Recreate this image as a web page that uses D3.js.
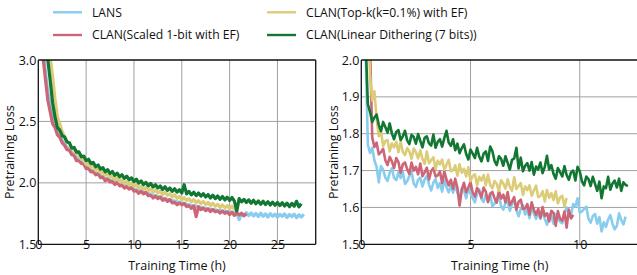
<!DOCTYPE html>
<html>
<head>
<meta charset="utf-8">
<script src="https://cdn.jsdelivr.net/npm/d3@7"></script>
<style>
  html, body { margin: 0; padding: 0; background: #fff; }
  svg { display: block; font-family: "Open Sans", sans-serif; }
</style>
</head>
<body>
<svg id="svgx" width="637" height="275"></svg>
<script>
// sampling grids (hours)
var leftT0 = 0.5, leftDt = 0.25;
var rightT0 = 0.1, rightDt = 0.1;

var seriesNames = ["LANS", "CLAN(Scaled 1-bit with EF)", "CLAN(Top-k(k=0.1%) with EF)", "CLAN(Linear Dithering (7 bits))"];
var seriesColors = ["#88ccee", "#cc6677", "#ddcc77", "#117733"];

// ---- left panel (0..29 h)
var lansLeft = [3.1,2.9,2.74,2.62,2.52,2.46,2.415,2.38,2.345,2.315,2.29,2.27,2.245,2.23,2.205,2.192,2.17,2.158,2.135,
  2.127,2.108,2.098,2.08,2.074,2.06,2.054,2.04,2.036,2.025,2.021,2.01,2.006,1.995,1.991,1.98,1.976,1.965,1.961,1.95,
  1.946,1.938,1.934,1.925,1.921,1.913,1.908,1.9,1.896,1.888,1.883,1.876,1.872,1.865,1.862,1.855,1.852,1.845,1.842,
  1.836,1.832,1.826,1.822,1.816,1.813,1.809,1.805,1.8,1.797,1.793,1.789,1.786,1.783,1.78,1.777,1.775,1.772,1.77,
  1.767,1.765,1.762,1.76,1.757,1.70,1.752,1.735,1.758,1.733,1.755,1.73,1.751,1.726,1.754,1.728,1.748,1.722,1.75,
  1.728,1.746,1.72,1.744,1.727,1.748,1.718,1.742,1.725,1.745,1.716,1.74,1.722,1.745];
var scaledLeft = [3.02,2.84,2.67,2.575,2.48,2.45,2.39,2.37,2.325,2.305,2.27,2.266,2.229,2.223,2.18,2.18,2.158,2.153,2.116,
  2.117,2.089,2.092,2.065,2.074,2.042,2.047,2.017,2.03,2.008,2.01,1.987,2.004,1.976,1.98,1.958,1.97,1.95,1.961,1.932,
  1.936,1.915,1.932,1.91,1.923,1.895,1.899,1.877,1.891,1.872,1.885,1.857,1.87,1.85,1.863,1.837,1.842,1.822,1.837,
  1.821,1.832,1.807,1.814,1.792,1.812,1.725,1.806,1.782,1.795,1.774,1.788,1.766,1.783,1.764,1.772,1.754,1.77,1.752,
  1.764,1.742,1.76,1.735,1.757,1.739,1.753,1.731,1.748];
var topkLeft = [3.65,3.4,3.18,3.02,2.86,2.68,2.535,2.48,2.415,2.38,2.335,2.318,2.279,2.27,2.232,2.228,2.192,2.19,2.152,
  2.159,2.128,2.136,2.102,2.112,2.083,2.092,2.061,2.074,2.045,2.055,2.027,2.04,2.01,2.025,1.996,2.01,1.983,1.998,1.972,
  1.985,1.958,1.973,1.947,1.962,1.937,1.951,1.925,1.942,1.918,1.933,1.905,1.924,1.898,1.912,1.885,1.903,1.875,1.89,
  1.862,1.879,1.856,1.871,1.845,1.864,1.838,1.855,1.831,1.848,1.823,1.841,1.816,1.834,1.81,1.826,1.8,1.82,1.797,
  1.815,1.79,1.81,1.785,1.802];
var ditherLeft = [3.45,3.2,3.0,2.83,2.65,2.535,2.45,2.43,2.385,2.372,2.332,2.327,2.283,2.288,2.25,2.252,2.212,2.218,2.181,
  2.192,2.157,2.166,2.131,2.145,2.112,2.124,2.09,2.108,2.076,2.092,2.061,2.079,2.049,2.066,2.036,2.055,2.024,2.041,2.011,
  2.03,1.998,2.016,1.985,2.004,1.975,1.995,1.966,1.985,1.958,1.975,1.946,1.968,1.938,1.958,1.931,1.952,1.925,1.944,
  1.918,1.985,1.91,1.93,1.902,1.924,1.896,1.917,1.892,1.912,1.885,1.905,1.877,1.9,1.872,1.894,1.866,1.889,1.861,
  1.884,1.857,1.881,1.852,1.772,1.872,1.845,1.866,1.84,1.862,1.834,1.858,1.83,1.852,1.826,1.85,1.823,1.847,1.82,
  1.843,1.818,1.84,1.815,1.838,1.812,1.835,1.806,1.833,1.81,1.85,1.805,1.83];

// ---- right panel (0..12.7 h)
var lansRight = [2.4,2.02,1.77,1.748,1.762,1.728,1.71,1.668,1.712,1.703,1.681,1.672,1.694,1.706,1.68,1.674,1.695,1.68,
  1.696,1.664,1.671,1.685,1.697,1.665,1.656,1.675,1.681,1.657,1.676,1.686,1.662,1.646,1.667,1.677,1.653,1.666,1.643,
  1.675,1.655,1.641,1.659,1.64,1.661,1.64,1.623,1.652,1.646,1.625,1.651,1.638,1.625,1.614,1.637,1.649,1.623,1.615,
  1.635,1.619,1.636,1.603,1.61,1.624,1.635,1.603,1.594,1.612,1.617,1.591,1.609,1.618,1.593,1.576,1.596,1.606,1.581,
  1.594,1.571,1.603,1.583,1.569,1.588,1.569,1.59,1.569,1.553,1.582,1.576,1.556,1.582,1.569,1.561,1.557,1.584,1.6,
  1.581,1.58,1.609,1.603,1.625,1.586,1.589,1.596,1.602,1.569,1.559,1.577,1.582,1.556,1.574,1.535,1.56,1.547,1.567,
  1.579,1.556,1.541,1.55,1.584,1.566,1.554,1.575];
var scaledRight = [2.7,2.45,2.22,2.04,1.79,1.764,1.776,1.744,1.75,1.759,1.728,1.715,1.737,1.725,1.707,1.734,1.723,1.694,
  1.717,1.722,1.704,1.691,1.722,1.7,1.71,1.69,1.719,1.685,1.695,1.708,1.676,1.699,1.707,1.684,1.687,1.697,1.666,1.698,
  1.676,1.66,1.675,1.65,1.678,1.653,1.605,1.648,1.667,1.641,1.654,1.669,1.64,1.629,1.653,1.643,1.627,1.654,1.643,
  1.614,1.637,1.642,1.625,1.613,1.645,1.624,1.635,1.614,1.642,1.607,1.616,1.628,1.594,1.615,1.621,1.596,1.597,1.609,
  1.58,1.614,1.594,1.58,1.596,1.572,1.601,1.577,1.584,1.562,1.591,1.585,1.55,1.59,1.569,1.564,1.589,1.545,1.594,1.57,
  1.58];
var topkRight = [2.9,2.5,2.12,1.96,1.89,1.915,1.841,1.793,1.808,1.766,1.78,1.783,1.752,1.774,1.763,1.778,1.75,1.779,1.751,
  1.742,1.761,1.752,1.732,1.76,1.75,1.733,1.755,1.732,1.718,1.752,1.72,1.728,1.736,1.704,1.727,1.717,1.73,1.702,1.716,
  1.729,1.698,1.701,1.714,1.686,1.717,1.694,1.705,1.684,1.709,1.671,1.686,1.69,1.66,1.683,1.673,1.688,1.66,1.689,
  1.661,1.652,1.672,1.664,1.645,1.674,1.665,1.651,1.676,1.656,1.645,1.682,1.65,1.658,1.666,1.634,1.657,1.647,1.66,
  1.632,1.646,1.659,1.628,1.631,1.644,1.616,1.647,1.626,1.639,1.62,1.644,1.611,1.627,1.632,1.603,1.626];
var ditherRight = [2.5,2.05,1.88,1.859,1.832,1.844,1.852,1.824,1.807,1.832,1.818,1.803,1.828,1.801,1.785,1.805,1.81,
  1.783,1.793,1.808,1.782,1.772,1.797,1.791,1.773,1.799,1.781,1.763,1.789,1.793,1.774,1.768,1.798,1.762,1.778,1.785,
  1.765,1.788,1.808,1.776,1.767,1.785,1.755,1.773,1.747,1.761,1.771,1.745,1.73,1.757,1.746,1.734,1.762,1.738,1.725,
  1.746,1.752,1.726,1.765,1.753,1.726,1.715,1.739,1.732,1.713,1.739,1.721,1.703,1.729,1.733,1.762,1.706,1.735,1.698,
  1.713,1.72,1.7,1.723,1.689,1.711,1.703,1.722,1.693,1.71,1.74,1.703,1.715,1.691,1.678,1.707,1.696,1.684,1.712,1.688,
  1.675,1.695,1.7,1.673,1.71,1.698,1.671,1.66,1.684,1.677,1.658,1.683,1.664,1.645,1.67,1.625,1.657,1.652,1.683,1.648,
  1.665,1.673,1.654,1.678,1.645,1.668,1.661,1.658];

var leftYTicks = [1.5, 2.0, 2.5, 3.0];
var leftXTicks = [0, 5, 10, 15, 20, 25];
var rightYTicks = [1.5, 1.6, 1.7, 1.8, 1.9, 2.0];
var rightXTicks = [0, 5, 10];

var svg = d3.select("#svgx");

function toPoints(vals, t0, dt) {
  return vals.map((v, i) => [t0 + i * dt, v]);
}

function panel(opt) {
  var x = d3.scaleLinear().domain(opt.xdom).range([opt.left, opt.right]);
  var y = d3.scaleLinear().domain(opt.ydom).range([opt.bottom, opt.top]);
  var g = svg.append("g").attr("class", "panel");

  g.append("clipPath").attr("id", opt.id)
    .append("rect")
    .attr("x", opt.left).attr("y", opt.top)
    .attr("width", opt.right - opt.left).attr("height", opt.bottom - opt.top);

  // grid
  g.selectAll(".vgrid").data(opt.xticks.filter(d => d > opt.xdom[0]))
    .enter().append("line")
    .attr("x1", d => x(d)).attr("x2", d => x(d))
    .attr("y1", opt.top).attr("y2", opt.bottom)
    .attr("stroke", "#a0a0a0").attr("stroke-width", 1);
  g.selectAll(".hgrid").data(opt.yticks.filter(d => d > opt.ydom[0] && d < opt.ydom[1]))
    .enter().append("line")
    .attr("x1", opt.left).attr("x2", opt.right)
    .attr("y1", d => y(d)).attr("y2", d => y(d))
    .attr("stroke", "#a0a0a0").attr("stroke-width", 1);

  var line = d3.line().x(d => x(d[0])).y(d => y(d[1]));
  var lines = g.append("g").attr("clip-path", `url(#${opt.id})`);
  lines.selectAll("path")
    .data(opt.series)
    .enter().append("path")
    .attr("d", (d) => line(toPoints(d, opt.t0, opt.dt)))
    .attr("fill", "none")
    .attr("stroke", (d, i) => seriesColors[i])
    .attr("stroke-width", opt.sw)
    .attr("stroke-linejoin", "round");

  // frame
  var fr = g.append("g").attr("stroke", "#111").attr("stroke-width", 1.3);
  fr.append("line").attr("x1", opt.left).attr("x2", opt.left).attr("y1", opt.top).attr("y2", opt.bottom);
  fr.append("line").attr("x1", opt.left).attr("x2", opt.right).attr("y1", opt.bottom).attr("y2", opt.bottom);
  fr.append("line").attr("x1", opt.left).attr("x2", opt.right).attr("y1", opt.top).attr("y2", opt.top);
  fr.append("line").attr("x1", opt.right).attr("x2", opt.right).attr("y1", opt.top).attr("y2", opt.bottom);

  // axes
  var yAx = g.append("g")
    .attr("transform", `translate(${opt.left},0)`)
    .call(d3.axisLeft(y).tickValues(opt.yticks).tickSize(0).tickPadding(2).tickFormat(d3.format(".1f")));
  yAx.select(".domain").remove();
  yAx.selectAll("text").style("font-size", "12.5px").attr("fill", "#111").style("font-family", "Open Sans");

  var xAx = g.append("g")
    .attr("transform", `translate(0,${opt.bottom})`)
    .call(d3.axisBottom(x).tickValues(opt.xticks).tickSize(0).tickPadding(-4).tickFormat(d3.format("d")));
  xAx.select(".domain").remove();
  xAx.selectAll("text").style("font-size", "12.5px").attr("fill", "#111").style("font-family", "Open Sans");

  g.append("text")
    .attr("x", (opt.left + Math.min(opt.right, 637)) / 2 + opt.xlabShift)
    .attr("y", 269.5)
    .attr("text-anchor", "middle")
    .style("font-size", "12.5px")
    .attr("fill", "#111")
    .text("Training Time (h)");

  g.append("text")
    .attr("transform", `translate(${opt.ylabX},${(opt.top + opt.bottom) / 2}) rotate(-90)`)
    .attr("text-anchor", "middle")
    .attr("dy", "0.35em")
    .style("font-size", "12.5px")
    .attr("fill", "#111")
    .text("Pretraining Loss");
}

panel({
  id: "clipL", left: 38.3, right: 315.7, top: 60, bottom: 244.3,
  xdom: [0, 29], ydom: [1.5, 3.0], xticks: leftXTicks, yticks: leftYTicks,
  series: [lansLeft, scaledLeft, topkLeft, ditherLeft], t0: leftT0, dt: leftDt, sw: 3.2,
  ylabX: 10, xlabShift: 0
});
panel({
  id: "clipR", left: 361.3, right: 638.5, top: 60, bottom: 244.3,
  xdom: [0, 12.69], ydom: [1.5, 2.0], xticks: rightXTicks, yticks: rightYTicks,
  series: [lansRight, scaledRight, topkRight, ditherRight], t0: rightT0, dt: rightDt, sw: 2.6,
  ylabX: 333.5, xlabShift: 0.5
});

// legend, two columns filled column-wise
var legPos = [[53, 12.3], [53, 35], [267, 12.3], [267, 35]];
var legOrder = [0, 1, 2, 3];
var leg = svg.append("g").attr("class", "legend");
var items = leg.selectAll(".li").data(legOrder).enter().append("g")
  .attr("transform", (d, i) => `translate(${legPos[i][0]},${legPos[i][1]})`);
items.append("line").attr("x1", 0).attr("x2", 29).attr("y1", 0).attr("y2", 0)
  .attr("stroke", d => seriesColors[d]).attr("stroke-width", 2.4);
items.append("text").attr("x", 39).attr("dy", "0.35em")
  .style("font-size", "12.2px").attr("fill", "#111")
  .text(d => seriesNames[d]);
</script>
</body>
</html>
